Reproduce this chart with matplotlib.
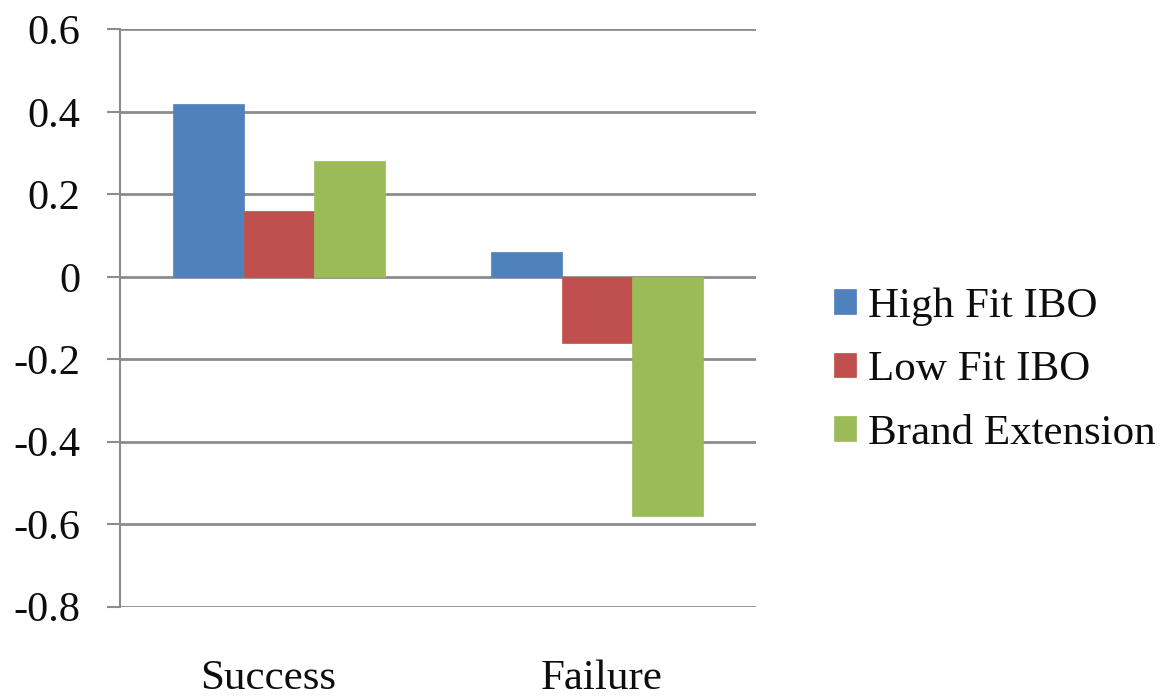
import matplotlib
matplotlib.use("Agg")
import matplotlib.pyplot as plt
import matplotlib.transforms as mtransforms
import numpy as np

# Chart data
categories = ["Success", "Failure"]
series_names = ["High Fit IBO", "Low Fit IBO", "Brand Extension"]
high_fit_ibo = [0.42, 0.06]
low_fit_ibo = [0.16, -0.16]
brand_extension = [0.28, -0.58]
y_ticks = [0.6, 0.4, 0.2, 0, -0.2, -0.4, -0.6, -0.8]
y_tick_labels = ["0.6", "0.4", "0.2", "0", "-0.2", "-0.4", "-0.6", "-0.8"]

series_values = [high_fit_ibo, low_fit_ibo, brand_extension]
colors = ["#4F81BD", "#C0504D", "#9BBB59"]
grid_color = "#8C8C8C"
text_color = "#0D0D0D"

plt.rcParams["font.family"] = ["Liberation Serif", "DejaVu Serif"]

fig = plt.figure(figsize=(11.74, 6.96), dpi=100)
ax = fig.add_axes([120 / 1174, 1 - 606.7 / 696, (756 - 120) / 1174, (606.7 - 29.3) / 696])

x = np.arange(len(categories))
bar_w = 0.2222
offsets = (np.arange(len(series_names)) - 1) * bar_w
for name, vals, off, col in zip(series_names, series_values, offsets, colors):
    ax.bar(x + off, vals, width=bar_w, color=col, label=name, zorder=3,
           edgecolor=col, linewidth=0.5)

ax.set_xlim(-0.5, 1.5)
ax.set_ylim(-0.8, 0.6)
ax.set_yticks(y_ticks)
ax.set_yticklabels(y_tick_labels)
ax.yaxis.grid(True, color=grid_color, linewidth=2, zorder=0)
ax.set_axisbelow(True)

for side in ["top", "right", "bottom"]:
    ax.spines[side].set_visible(False)
ax.spines["left"].set_color(grid_color)
ax.spines["left"].set_linewidth(1.5)

ax.tick_params(axis="y", length=9.4, width=1.5, color=grid_color, pad=19,
               labelsize=30.5, labelcolor=text_color)
ax.set_xticks(x)
ax.set_xticklabels(categories)
ax.tick_params(axis="x", length=0, pad=38, labelsize=31, labelcolor=text_color)

# small horizontal nudges of the category labels (in pixels)
label_shifts = [-11, 4.5]
for lbl, dx in zip(ax.get_xticklabels(), label_shifts):
    lbl.set_transform(lbl.get_transform() +
                      mtransforms.ScaledTranslation(dx / 100, 0, fig.dpi_scale_trans))

ax.legend(loc="center left", bbox_to_anchor=(834 / 1174, 1 - 370 / 696),
          bbox_transform=fig.transFigure, frameon=False, fontsize=31,
          handlelength=0.51, handleheight=0.51, handletextpad=0.28,
          labelspacing=0.58, borderpad=0, borderaxespad=0,
          labelcolor=text_color)

fig.savefig("out.png", dpi=100, facecolor="white")
